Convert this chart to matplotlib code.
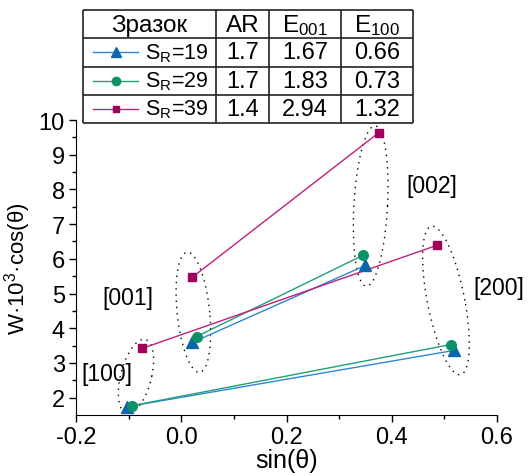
import numpy as np
import matplotlib
import matplotlib.pyplot as plt

matplotlib.use("Agg")

plt.rcParams["font.family"] = ["Liberation Sans", "DejaVu Sans"]
plt.rcParams["mathtext.fontset"] = "custom"
plt.rcParams["mathtext.rm"] = "Liberation Sans"
plt.rcParams["mathtext.it"] = "Liberation Sans:italic"

# Data: points per series, order = [100], [001], [002], [200]
series_names = ["S$_{\\mathrm{R}}$=19", "S$_{\\mathrm{R}}$=29", "S$_{\\mathrm{R}}$=39"]
x_sr19 = [-0.103, 0.021, 0.350, 0.518]
y_sr19 = [1.74, 3.59, 5.81, 3.36]
x_sr29 = [-0.093, 0.029, 0.345, 0.512]
y_sr29 = [1.77, 3.76, 6.10, 3.53]
x_sr39 = [-0.074, 0.021, 0.375, 0.486]
y_sr39 = [3.42, 5.47, 9.63, 6.39]

# Table values
table_header = ["Зразок", "AR", "E$_{\\mathrm{001}}$", "E$_{\\mathrm{100}}$"]
ar_values = ["1.7", "1.7", "1.4"]
e001_values = ["1.67", "1.83", "2.94"]
e100_values = ["0.66", "0.73", "1.32"]

# Reflex labels and the dotted ellipses around each group
reflex_labels = ["[100]", "[001]", "[002]", "[200]"]
label_x = [-0.189, -0.149, 0.427, 0.555]
label_y = [2.69, 4.89, 8.10, 5.18]
ell_cx = [-0.086, 0.023, 0.360, 0.503]
ell_cy = [2.61, 4.46, 7.52, 4.80]
ell_ax = [0.030, 0.031, 0.032, 0.036]
ell_ay = [1.07, 1.73, 2.31, 2.14]
ell_shear = [0.015, -0.011, 0.008, -0.026]

line_colors = ["#2f86cc", "#1fa07a", "#c01f7c"]
marker_colors = ["#0b66aa", "#0c9168", "#a3005c"]
markers = ["^", "o", "s"]
marker_sizes = [8, 7, 6]

fig = plt.figure(figsize=(5.28, 4.77), dpi=100)
ax = fig.add_axes([76 / 528, 1 - 416 / 477, 421 / 528, 295 / 477])

xs = [x_sr19, x_sr29, x_sr39]
ys = [y_sr19, y_sr29, y_sr39]
for i in range(3):
    # [100] goes with [200], [001] goes with [002]
    for a, b in [(0, 3), (1, 2)]:
        ax.plot([xs[i][a], xs[i][b]], [ys[i][a], ys[i][b]],
                color=line_colors[i], lw=1.0, zorder=2)
    ax.plot(xs[i], ys[i], ls="none", marker=markers[i], ms=marker_sizes[i],
            color=marker_colors[i], mec=marker_colors[i], zorder=3)

t = np.linspace(0, 2 * np.pi, 200)
for cx, cy, a, b, sh in zip(ell_cx, ell_cy, ell_ax, ell_ay, ell_shear):
    ax.plot(cx + a * np.cos(t) + sh * np.sin(t), cy + b * np.sin(t),
            color="black", lw=1.0, ls=(0, (1, 3.5)), zorder=1)

for lab, lx, ly in zip(reflex_labels, label_x, label_y):
    ax.text(lx, ly, lab, fontsize=16.5, va="center", ha="left", clip_on=False)

ax.set_xlim(-0.2, 0.6)
ax.set_ylim(1.5, 10)
ax.set_xticks(np.arange(-0.2, 0.61, 0.2))
ax.set_xticks(np.arange(-0.1, 0.6, 0.2), minor=True)
ax.set_yticks(np.arange(2, 11, 1))
ax.set_yticks(np.arange(2.5, 10, 1), minor=True)
ax.set_xticklabels(["-0.2", "0.0", "0.2", "0.4", "0.6"])
ax.tick_params(direction="out", labelsize=17, length=5, width=1, pad=3)
ax.tick_params(which="minor", direction="out", length=3, width=1)
for s in ["top", "right"]:
    ax.spines[s].set_visible(False)
ax.set_xlabel("sin(θ)", fontsize=18, labelpad=0)
ax.set_ylabel("W·10$^3$·cos(θ)", fontsize=16, labelpad=4)

# Table on top, drawn by hand, legend samples in the first column
tab_ax = fig.add_axes([83 / 528, 1 - 124 / 477, 330 / 528, 113 / 477])
tab_ax.set_xlim(0, 1)
tab_ax.set_ylim(0, 1)
tab_ax.axis("off")
col_edges = [0, 0.403, 0.564, 0.782, 1.0]
row_edges = [0, 0.25, 0.5, 0.75, 1.0]
tab_ax.hlines(row_edges, 0, 1, color="#222222", lw=1.2, clip_on=False)
tab_ax.vlines(col_edges, 0, 1, color="#222222", lw=1.2, clip_on=False)
col_mid = [(col_edges[k] + col_edges[k + 1]) / 2 for k in range(4)]

for k, head in enumerate(table_header):
    tab_ax.text(col_mid[k], 0.87, head, fontsize=17.5, ha="center", va="center")

for i in range(3):
    yc = 0.625 - 0.25 * i
    tab_ax.plot([0.03, 0.167], [yc, yc], color=line_colors[i], lw=1.0)
    tab_ax.plot([0.1], [yc], ls="none", marker=markers[i], ms=marker_sizes[i] - 1,
                color=marker_colors[i])
    tab_ax.text(0.188, yc, series_names[i], fontsize=15.5, va="center", ha="left")
    for k, val in enumerate([ar_values[i], e001_values[i], e100_values[i]]):
        tab_ax.text(col_mid[k + 1], yc, val, fontsize=17, ha="center", va="center")

fig.savefig("out.png", dpi=100)
plt.close(fig)
